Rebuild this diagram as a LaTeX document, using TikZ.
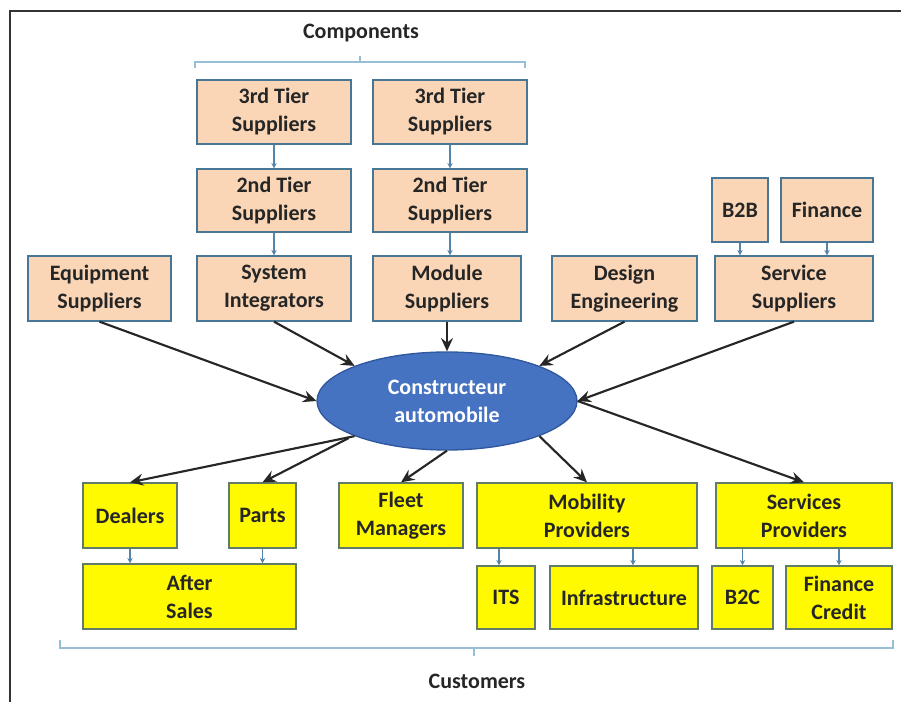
\documentclass[tikz,border=0pt]{standalone}
\usepackage{fontspec}
\setmainfont{Carlito}
\usetikzlibrary{arrows.meta}
\usetikzlibrary{shapes.geometric}
\usetikzlibrary{calc}

\definecolor{peach}{RGB}{250,214,182}
\definecolor{peachline}{RGB}{72,118,150}
\definecolor{yell}{RGB}{255,250,0}
\definecolor{yellline}{RGB}{96,124,104}
\definecolor{ovalfill}{RGB}{70,114,194}
\definecolor{ovalline}{RGB}{48,88,158}
\definecolor{thinarrow}{RGB}{84,132,170}
\definecolor{bracket}{RGB}{150,190,212}

\begin{document}
\begin{tikzpicture}[x=0.75pt,y=-0.75pt,
    txt/.style={font=\bfseries\fontsize{16.5}{21}\selectfont, text=black!85, align=center},
    box/.style 2 args={txt, rectangle, inner sep=0pt, minimum width=#1*0.75pt, minimum height=#2*0.75pt},
    supp/.style={fill=peach, draw=peachline, line width=1pt},
    cust/.style={fill=yell, draw=yellline, line width=1pt},
    big/.style={draw=black!85, line width=1.6pt, -{Stealth[length=10pt,width=9pt,inset=3.5pt]}},
    tiny/.style={draw=thinarrow, line width=0.8pt, -{Stealth[length=4pt,width=4pt]}},
    brace/.style={draw=bracket, line width=0.9pt}]

    \useasboundingbox (0,0) rectangle (901,702);
    \draw[black!80, line width=1.8pt] (10,705) -- (10,11) -- (905,11);

    % components
    \node[txt] (comp) at (361,33) {Components};
    \draw[brace] (195,68) -- (195,62) -- (525,62) -- (525,68);
    \draw[brace] (360,62) -- (360,56);

    \node[box={154}{64}, supp] (t3a) at (274,112) {3rd Tier\\Suppliers};
    \node[box={154}{64}, supp] (t3b) at (450,112) {3rd Tier\\Suppliers};
    \node[box={154}{63}, supp] (t2a) at (274,200.5) {2nd Tier\\Suppliers};
    \node[box={154}{63}, supp] (t2b) at (450,200.5) {2nd Tier\\Suppliers};

    \node[box={56}{64}, supp] (b2b) at (740,210) {B2B};
    \node[box={92}{64}, supp] (fin) at (827,210) {Finance};

    \node[box={143}{65}, supp] (equip) at (99.5,288.5) {Equipment\\Suppliers};
    \node[box={154}{65}, supp] (sysint) at (274,288.5) {System\\Integrators};
    \node[box={148}{65}, supp] (module) at (447,288.5) {Module\\Suppliers};
    \node[box={145}{65}, supp] (design) at (624.5,288.5) {Design\\Engineering};
    \node[box={158}{65}, supp] (service) at (794,288.5) {Service\\Suppliers};

    \draw[tiny] (t3a) -- (t2a);
    \draw[tiny] (t3b) -- (t2b);
    \draw[tiny] (t2a) -- (sysint);
    \draw[tiny] (t2b.south) -- (t2b.south |- module.north);
    \draw[tiny] (b2b.south) -- (b2b.south |- service.north);
    \draw[tiny] (fin.south) -- (fin.south |- service.north);

    % constructeur
    \node[ellipse, fill=ovalfill, draw=ovalline, line width=1pt, minimum width=260*0.75pt,
          minimum height=98*0.75pt, inner sep=0pt, txt, text=white] (ell) at (447,401)
          {Constructeur\\automobile};

    % customers
    \node[box={94}{65}, cust] (dealers) at (130,515.5) {Dealers};
    \node[box={67}{65}, cust] (parts) at (262.5,515.5) {Parts};
    \node[box={124}{65}, cust] (fleet) at (401,515.5) {Fleet\\Managers};
    \node[box={220}{65}, cust] (mobility) at (587,515.5) {Mobility\\Providers};
    \node[box={176}{65}, cust] (services) at (804,515.5) {Services\\Providers};

    \node[box={213}{65}, cust] (after) at (189.5,596.5) {After\\Sales};
    \node[box={58}{63}, cust] (its) at (506,597.5) {ITS};
    \node[box={148}{63}, cust] (infra) at (624,597.5) {Infrastructure};
    \node[box={61}{63}, cust] (b2c) at (742.5,597.5) {B2C};
    \node[box={106}{63}, cust] (credit) at (839,597.5) {Finance\\Credit};

    \coordinate (itsin) at ($(its.north)+(-7,0)$);
    \coordinate (infrain) at ($(infra.north)+(9,0)$);
    \draw[tiny] (dealers.south) -- (dealers.south |- after.north);
    \draw[tiny] (parts.south) -- (parts.south |- after.north);
    \draw[tiny] (itsin |- mobility.south) -- (itsin);
    \draw[tiny] (infrain |- mobility.south) -- (infrain);
    \draw[tiny] (b2c.north |- services.south) -- (b2c.north);
    \draw[tiny] (credit.north |- services.south) -- (credit.north);

    \draw[brace] (60,640) -- (60,648) -- (893,648) -- (893,640);
    \draw[brace] (474,648) -- (474,656);
    \node[txt] (custlabel) at (477,681) {Customers};

    % big arrows
    \draw[big] (equip.south) -- (ell.west);
    \draw[big] (sysint.south) -- (ell.north west);
    \draw[big] (module.south) -- (ell.north);
    \draw[big] (design.south) -- (ell.north east);
    \draw[big] (service.south) -- (ell.east);

    \draw[big] (ell.south west) -- (dealers.north);
    \draw[big] ($(ell.south west)+(-6,2)$) -- (parts.north);
    \draw[big] (ell.south) -- (fleet.north);
    \draw[big] (ell.south east) -- (mobility.north);
    \draw[big] (ell.east) -- (services.north);
\end{tikzpicture}
\end{document}
